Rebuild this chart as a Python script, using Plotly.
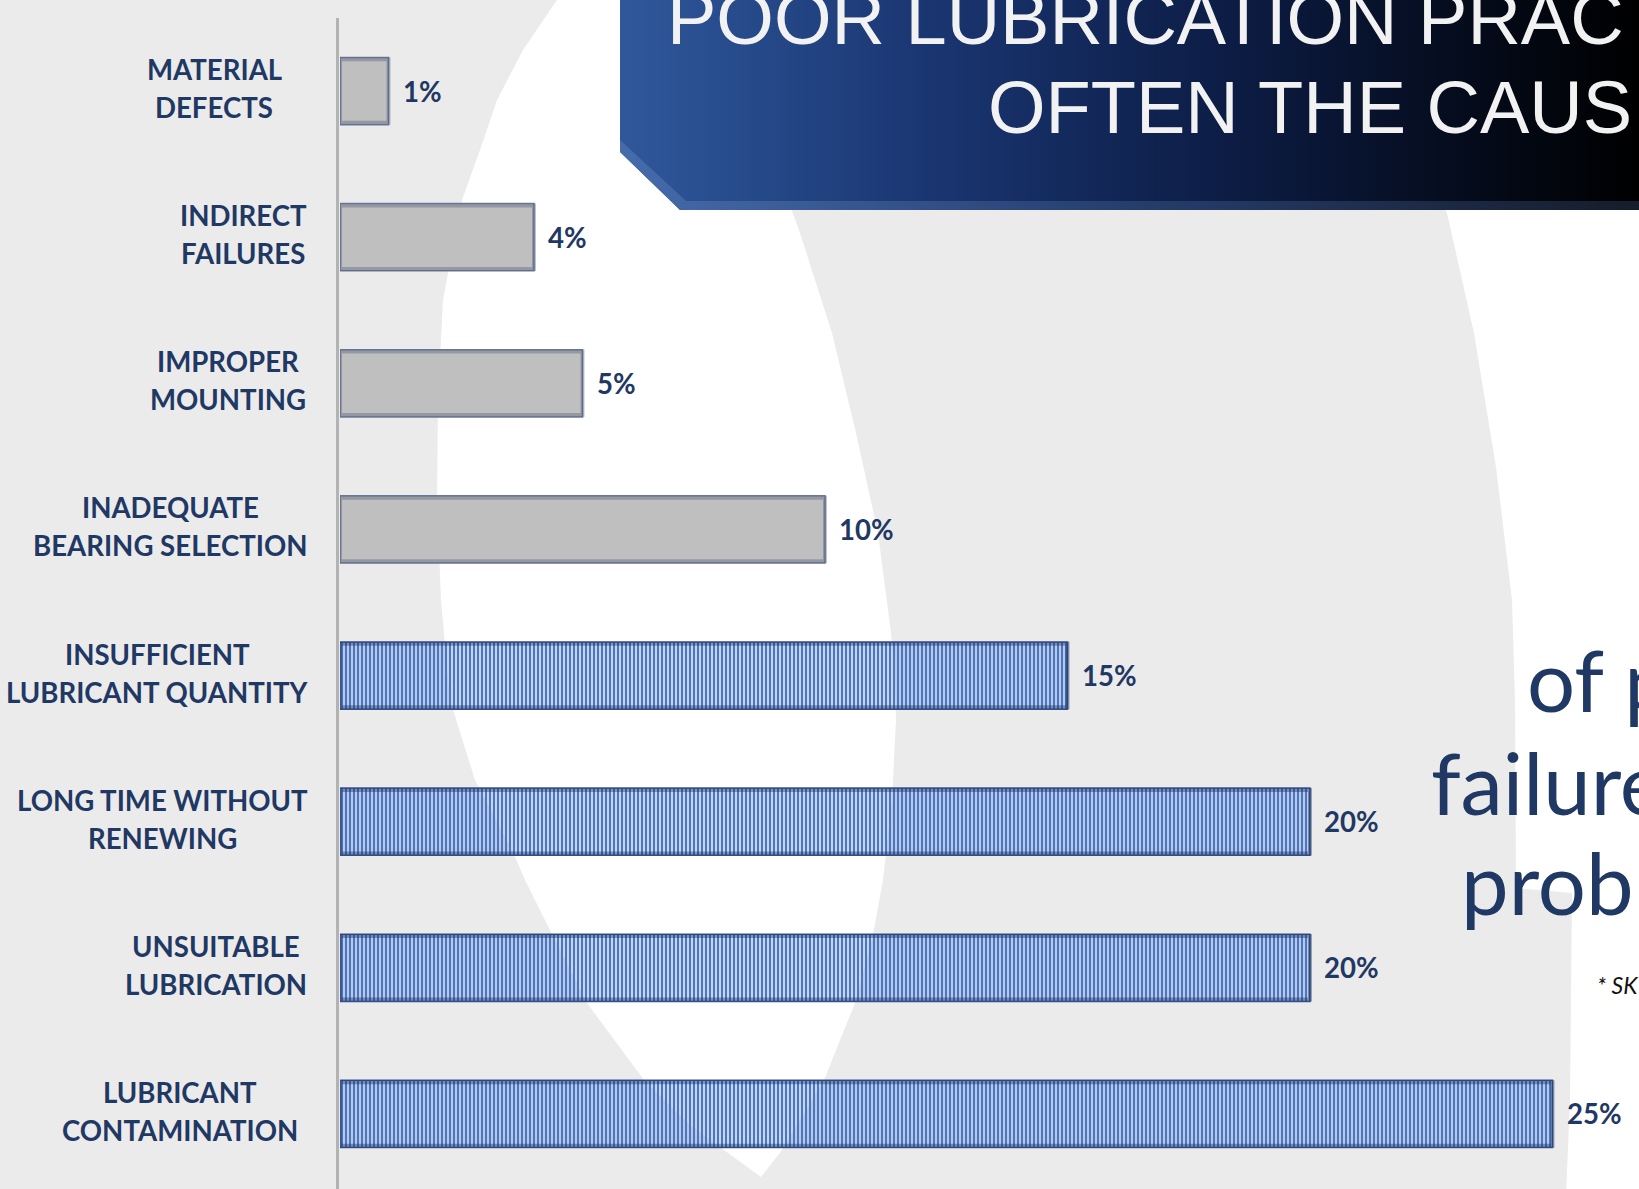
import base64
import plotly.graph_objects as go

W, H = 1639, 1189

# ---------------- data ----------------
categories = [
    "MATERIAL<br>DEFECTS",
    "INDIRECT<br>FAILURES",
    "IMPROPER<br>MOUNTING",
    "INADEQUATE<br>BEARING SELECTION",
    "INSUFFICIENT<br>LUBRICANT QUANTITY",
    "LONG TIME WITHOUT<br>RENEWING",
    "UNSUITABLE<br>LUBRICATION",
    "LUBRICANT<br>CONTAMINATION",
]
values = [1, 4, 5, 10, 15, 20, 20, 25]
is_lubrication = [False, False, False, False, True, True, True, True]

title_lines = ["POOR LUBRICATION PRAC", "OFTEN THE CAUS"]
side_lines = ["of p", "failure", "prob"]
footnote = "* SK"

# ---------------- layout helpers ----------------
def px(x):
    return x / W

def py(y):
    return 1 - y / H

label_centers = [214, 243, 228, 170, 157, 162, 216, 180]
LINE_OFF = 19.0

NAVY = "#1f3864"
GRAY_BG = "#ebebeb"

bar_colors = ["#bfbfbf" if not b else "#4a76c6" for b in is_lubrication]
pat_shapes = ["|" if b else "" for b in is_lubrication]
pat_fg = ["#c9d4ea" if b else "#bfbfbf" for b in is_lubrication]
pat_bg = ["#4a76c6" if b else "#bfbfbf" for b in is_lubrication]
line_colors = ["#6e7c9c" if not b else "#3a5590" for b in is_lubrication]
shade_colors = ["rgba(70,80,110,0.35)" if not b else "rgba(25,45,95,0.4)" for b in is_lubrication]

fig = go.Figure()
fig.add_trace(go.Bar(
    x=values,
    y=categories,
    orientation="h",
    width=0.46,
    marker=dict(
        color=bar_colors,
        line=dict(color=line_colors, width=1.5),
        pattern=dict(shape=pat_shapes, fgcolor=pat_fg, bgcolor=pat_bg,
                     size=4, solidity=0.65, fillmode="replace"),
    ),
    hoverinfo="skip",
    showlegend=False,
))
# inner edge shading
fig.add_trace(go.Bar(
    x=values,
    y=categories,
    orientation="h",
    width=0.435,
    marker=dict(color="rgba(0,0,0,0)", line=dict(color=shade_colors, width=4)),
    hoverinfo="skip",
    showlegend=False,
))

x_max = (W - 340) / 48.5

fig.update_layout(
    width=W, height=H,
    barmode="overlay",
    margin=dict(l=0, r=0, t=0, b=0),
    paper_bgcolor=GRAY_BG,
    plot_bgcolor="rgba(0,0,0,0)",
    xaxis=dict(domain=[px(340), 1], range=[0, x_max], visible=False, fixedrange=True),
    yaxis=dict(domain=[py(1187), py(18)], type="category",
               categoryorder="array", categoryarray=categories,
               range=[len(categories) - 0.5, -0.5], visible=False),
)

# ---------------- background decoration ----------------
def path_from(points):
    return "M " + " L ".join(f"{px(x):.5f},{py(y):.5f}" for x, y in points) + " Z"

white_drop = [
    (560, -5), (557, 0), (523, 50), (497, 100), (480, 150), (462, 200), (443, 300),
    (438, 400), (437, 500), (441, 600), (450, 700), (475, 780), (512, 850), (525, 880),
    (555, 940), (587, 1003), (644, 1080), (690, 1125), (724, 1150), (761, 1177),
    (782, 1150), (824, 1080), (855, 1003), (872, 940), (883, 880), (892, 800),
    (896, 720), (895, 680), (891, 633), (878, 533), (856, 433), (832, 333),
    (800, 233), (770, 150), (720, -5),
]
white_right = [
    (1440, 200), (1447, 213), (1474, 333), (1496, 467), (1512, 600), (1515, 700),
    (1516, 888), (1572, 893), (1570, 1100), (1566, 1195), (1645, 1195), (1645, 200),
]
shapes = [
    dict(type="path", xref="paper", yref="paper", path=path_from(white_drop),
         fillcolor="#ffffff", line=dict(width=0), layer="below"),
    dict(type="path", xref="paper", yref="paper", path=path_from(white_right),
         fillcolor="#ffffff", line=dict(width=0), layer="below"),
    dict(type="line", xref="paper", yref="paper", x0=px(337.5), x1=px(337.5),
         y0=py(18), y1=py(1189), line=dict(color="#b3b3b3", width=3), layer="below"),
]
fig.update_layout(shapes=shapes)

# banner (gradient) as inline SVG image
bw, bh = W - 620, 210
svg = f"""<svg xmlns='http://www.w3.org/2000/svg' width='{bw}' height='{bh}' viewBox='0 0 {bw} {bh}' preserveAspectRatio='none'>
<defs>
<linearGradient id='g' x1='0' y1='0' x2='1' y2='0'>
<stop offset='0' stop-color='#2f589b'/>
<stop offset='0.3' stop-color='#1a3672'/>
<stop offset='0.6' stop-color='#0c1c44'/>
<stop offset='0.85' stop-color='#040a18'/>
<stop offset='1' stop-color='#000000'/>
</linearGradient>
<linearGradient id='e' x1='0' y1='0' x2='1' y2='0'>
<stop offset='0' stop-color='#4a6fae'/>
<stop offset='0.5' stop-color='#2a4272'/>
<stop offset='1' stop-color='#1a2232'/>
</linearGradient>
</defs>
<path d='M0 0 H{bw} V{bh} H60 L0 152 Z' fill='url(#g)'/>
<path d='M0 140 L66 201 H{bw} V{bh} H60 L0 152 Z' fill='url(#e)' opacity='0.85'/>
</svg>"""
src = "data:image/svg+xml;base64," + base64.b64encode(svg.encode()).decode()
fig.add_layout_image(dict(source=src, xref="paper", yref="paper",
                          x=px(620), y=1, sizex=px(W) - px(620), sizey=bh / H,
                          xanchor="left", yanchor="top", sizing="stretch", layer="above"))

# ---------------- annotations ----------------
ann = []
lab_font = dict(family="Lato, Open Sans, sans-serif", size=27.6, color=NAVY, weight="bold")
for cat, xc in zip(categories, label_centers):
    lines = cat.split("<br>")
    for i, ln in enumerate(lines):
        shift = (i - (len(lines) - 1) / 2) * 2 * LINE_OFF
        ann.append(dict(text=ln, x=px(xc), y=cat, xref="paper", yref="y",
                        xanchor="center", yanchor="middle", yshift=-shift + 2.5,
                        showarrow=False, font=lab_font, borderpad=0))
for cat, v in zip(categories, values):
    ann.append(dict(text=f"{v}%", x=v, y=cat, xref="x", yref="y",
                    xanchor="left", yanchor="middle", xshift=13,
                    showarrow=False, font=lab_font, borderpad=0))

title_font = dict(family="Liberation Sans, Arial, sans-serif", size=74, color="#f2f2f2")
ann.append(dict(text=title_lines[0], x=px(666), y=py(19), xref="paper", yref="paper",
                xanchor="left", yanchor="middle", showarrow=False, font=title_font, borderpad=0))
ann.append(dict(text=title_lines[1], x=px(987), y=py(107), xref="paper", yref="paper",
                xanchor="left", yanchor="middle", showarrow=False, font=title_font, borderpad=0))

side_font = dict(family="Lato, Open Sans, sans-serif", size=85, color=NAVY)
side_x = [1526, 1430, 1460]
side_y = [679, 782, 882]
for t, sx, sy in zip(side_lines, side_x, side_y):
    ann.append(dict(text=t, x=px(sx), y=py(sy), xref="paper", yref="paper",
                    xanchor="left", yanchor="middle", showarrow=False,
                    font=side_font, borderpad=0))

ann.append(dict(text=footnote, x=px(1596), y=py(985), xref="paper", yref="paper",
                xanchor="left", yanchor="middle", showarrow=False, borderpad=0,
                font=dict(family="Lato, Open Sans, sans-serif", size=23, color="#111111",
                          style="italic")))

fig.update_layout(annotations=ann)

fig.write_html("out.html")
